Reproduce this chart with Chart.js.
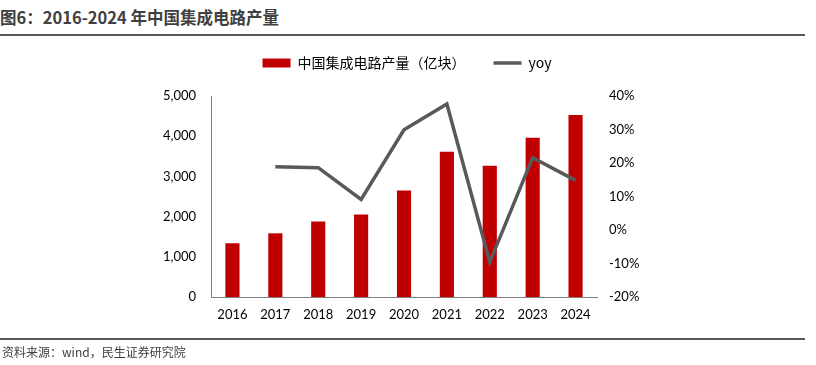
<!DOCTYPE html>
<html>
<head>
<meta charset="utf-8">
<script src="https://cdn.jsdelivr.net/npm/chart.js@4/dist/chart.umd.min.js"></script>
<style>
  html, body { margin: 0; padding: 0; background: #fff; }
  body { width: 816px; height: 365px; position: relative; overflow: hidden; font-family: "Noto Sans CJK SC", sans-serif; }
  #title { position: absolute; left: 0; top: 5px; font-size: 16.5px; font-weight: bold; color: #404040; white-space: nowrap; }
  .rule { position: absolute; left: 0; width: 805px; height: 2px; background: #595959; }
  #source { position: absolute; left: 2px; top: 343px; font-size: 12px; color: #404040; white-space: nowrap; }
  #wrap { position: absolute; left: 0; top: 0; width: 816px; height: 365px; }
</style>
</head>
<body>
<div id="title">图6：2016-2024 年中国集成电路产量</div>
<div class="rule" style="top:34px"></div>
<div id="wrap"><canvas id="chart"></canvas></div>
<div class="rule" style="top:338px"></div>
<div id="source">资料来源：wind，民生证券研究院</div>
<script>
  const years = ['2016', '2017', '2018', '2019', '2020', '2021', '2022', '2023', '2024'];
  const output = [1337, 1584, 1881, 2054, 2648, 3614, 3267, 3960, 4530];
  const yoy = [null, 18.9, 18.6, 9.1, 29.9, 37.6, -9.6, 21.6, 14.8];

  const tickFont = { family: 'Lato, "Noto Sans CJK SC", sans-serif', size: 13 };

  // fixed legend height so the plot top lands where it should
  const legendHeight = {
    id: 'legendHeight',
    afterInit(chart) {
      const fit = chart.legend.fit;
      chart.legend.fit = function() {
        fit.call(this);
        this.height = 68;
      };
    }
  };

  document.addEventListener('DOMContentLoaded', function() {
    const ctx = document.getElementById('chart').getContext('2d');
    new Chart(ctx, {
      type: 'bar',
      data: {
        labels: years,
        datasets: [
          {
            label: '中国集成电路产量（亿块）',
            data: output,
            backgroundColor: '#C00000',
            barPercentage: 0.33,
            categoryPercentage: 1,
            yAxisID: 'y',
            order: 2
          },
          {
            type: 'line',
            label: 'yoy',
            data: yoy,
            borderColor: '#595959',
            backgroundColor: '#595959',
            borderWidth: 3.5,
            pointRadius: 0,
            tension: 0,
            yAxisID: 'y1',
            order: 1
          }
        ]
      },
      plugins: [legendHeight],
      options: {
        responsive: true,
        maintainAspectRatio: false,
        animation: false,
        layout: { padding: { top: 28, right: 2, bottom: 38, left: 0 } },
        plugins: {
          tooltip: { enabled: false },
          legend: {
            labels: {
              usePointStyle: true,
              pointStyleWidth: 28,
              boxWidth: 28,
              boxHeight: 9,
              color: '#000',
              padding: 28,
              font: { family: '"Noto Sans CJK SC", sans-serif', size: 14 },
              generateLabels: function(chart) {
                return chart.data.datasets.map(function(ds, i) {
                  const isLine = ds.type === 'line';
                  return {
                    text: ds.label,
                    pointStyle: isLine ? 'line' : 'rect',
                    fillStyle: ds.backgroundColor,
                    strokeStyle: isLine ? ds.borderColor : ds.backgroundColor,
                    lineWidth: isLine ? 3.5 : 0,
                    datasetIndex: i
                  };
                });
              }
            }
          }
        },
        scales: {
          x: {
            grid: { display: false, drawTicks: false },
            border: { display: true, color: '#808080', width: 1 },
            ticks: { color: '#000', font: tickFont, padding: 10 },
            afterFit: function(s) { s.height = 30; }
          },
          y: {
            position: 'left',
            min: 0, max: 5000,
            grid: { display: false, drawTicks: false },
            border: { display: true, color: '#808080', width: 1 },
            ticks: {
              stepSize: 1000, color: '#000', font: tickFont, padding: 15,
              callback: v => v.toLocaleString('en-US')
            },
            afterFit: function(s) { s.width = 211; }
          },
          y1: {
            position: 'right',
            min: -20, max: 40,
            grid: { display: false, drawTicks: false },
            border: { display: false },
            ticks: {
              stepSize: 10, color: '#000', font: tickFont, padding: 12,
              callback: v => v + '%'
            },
            afterFit: function(s) { s.width = 217; }
          }
        }
      }
    });
  });
</script>
</body>
</html>
